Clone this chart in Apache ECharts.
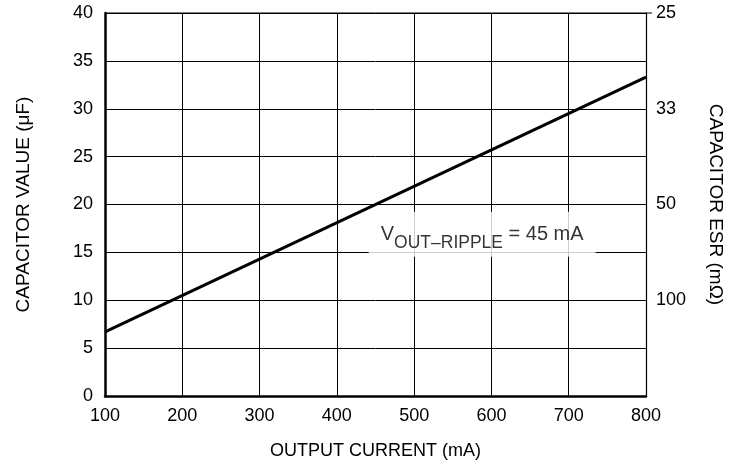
<!DOCTYPE html>
<html>
<head>
<meta charset="utf-8">
<script src="https://cdn.jsdelivr.net/npm/echarts@6/dist/echarts.min.js"></script>
<style>html,body{margin:0;padding:0;background:#fff}#c{width:733px;height:468px}</style>
</head>
<body>
<div id="c"></div>
<script>
// Data
const outputCurrent = [100, 800];           // mA
const capacitorValue = [6.7, 33.3];         // µF
const rightTickPositions = [10, 20, 30, 40];
const rightTickLabels = ['100', '50', '33', '25'];
const annotationPos = [588, 16.9];

const FONT = 'Liberation Sans, Arial, Helvetica, sans-serif';
const chart = echarts.init(document.getElementById('c'));
const rightMap = {};
rightTickPositions.forEach((p, i) => rightMap[p] = rightTickLabels[i]);

chart.setOption({
  animation: false,
  backgroundColor: '#fff',
  grid: { left: 105, right: 81, top: 13, bottom: 72, show: false },
  xAxis: {
    type: 'value', min: 100, max: 800, interval: 100,
    name: 'OUTPUT CURRENT (mA)', nameLocation: 'middle', nameGap: 46,
    nameTextStyle: { fontFamily: FONT, fontSize: 18, color: '#000' },
    axisLine: { show: true, onZero: false, lineStyle: { color: '#000', width: 2.5 } },
    axisTick: { show: false },
    axisLabel: { fontFamily: FONT, fontSize: 18, color: '#000', margin: 11 },
    splitLine: { show: true, lineStyle: { color: '#000', width: 1 } }
  },
  yAxis: [{
    type: 'value', min: 0, max: 40, interval: 5,
    name: 'CAPACITOR VALUE (μF)', nameLocation: 'middle', nameGap: 72,
    nameTextStyle: { fontFamily: FONT, fontSize: 19, color: '#000' },
    axisLine: { show: true, onZero: false, lineStyle: { color: '#000', width: 2.5 } },
    axisTick: { show: false },
    axisLabel: { fontFamily: FONT, fontSize: 18, color: '#000', margin: 12 },
    splitLine: { show: true, lineStyle: { color: '#000', width: 1 } }
  }, {
    type: 'value', min: 0, max: 40, interval: 10, position: 'right',
    name: 'CAPACITOR ESR (mΩ)', nameLocation: 'middle', nameGap: 60, nameRotate: -90,
    nameTextStyle: { fontFamily: FONT, fontSize: 19, color: '#000' },
    axisLine: { show: true, onZero: false, lineStyle: { color: '#000', width: 1.2 } },
    axisTick: { show: false },
    axisLabel: { fontFamily: FONT, fontSize: 18, color: '#000', margin: 10,
      formatter: v => rightMap[v] || '' },
    splitLine: { show: false }
  }],
  graphic: [{
    type: 'line', shape: { x1: 105, y1: 13, x2: 652, y2: 13 },
    style: { stroke: '#000', lineWidth: 1.2 }, z: 5
  }],
  series: [{
    type: 'line',
    data: outputCurrent.map((x, i) => [x, capacitorValue[i]]),
    showSymbol: false, symbol: 'none',
    lineStyle: { color: '#000', width: 3 },
    z: 3
  }, {
    type: 'scatter',
    data: [annotationPos],
    symbolSize: 0,
    z: 10,
    label: {
      show: true, position: 'inside',
      backgroundColor: '#fff',
      padding: [13, 12, 5, 12],
      formatter: '{v|V}{s|OUT–RIPPLE}{v| = 45 mA}',
      rich: {
        v: { fontFamily: FONT, fontSize: 20, color: '#000', verticalAlign: 'top', lineHeight: 27 },
        s: { fontFamily: FONT, fontSize: 17.5, color: '#000', verticalAlign: 'bottom', lineHeight: 27 }
      }
    }
  }]
});
</script>
</body>
</html>
